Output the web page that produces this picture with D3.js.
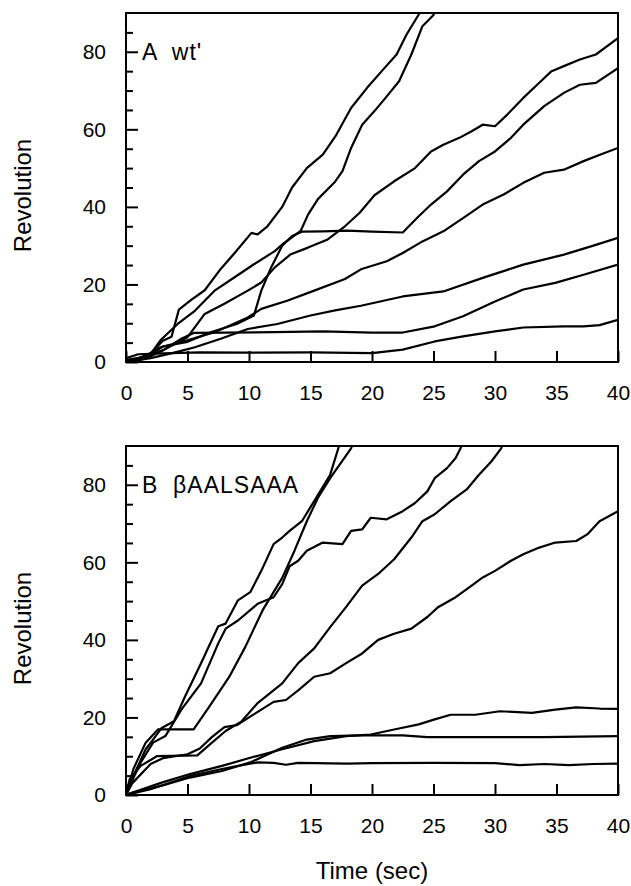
<!DOCTYPE html>
<html>
<head>
<meta charset="utf-8">
<script src="https://cdn.jsdelivr.net/npm/d3@7"></script>
<style>
  html, body { margin: 0; padding: 0; background: #fff; }
  svg text { font-family: "Liberation Sans", Arial, sans-serif; fill: #000; }
</style>
</head>
<body>
<div id="chart"></div>
<script>
// time axis and revolution axis
const timeTicks = [0, 5, 10, 15, 20, 25, 30, 35, 40]
const revTicks = [0, 20, 40, 60, 80]
const revMinor = [5, 10, 15, 25, 30, 35, 45, 50, 55, 65, 70, 75, 85]

// panel A, wt' : [time (sec), revolution]
const a1 = [[0,0.3],[1,0.8],[2,2.2],[3,5.5],[3.7,6.5],[4.3,13.5],[5.3,16],[6.4,18.5],[7.7,24],[8.8,28],[10.2,33.3],[10.7,32.9],[11.5,35],[12.7,40],[13.5,45],[14.7,50],[16,53.5],[17.1,58.6],[18.3,65.5],[19.6,70.7],[20.9,75.4],[22,79.3],[22.8,84.4],[23.8,89.6],[24,91]]
const a2 = [[0,0.2],[1,0.5],[2,2],[2.8,5.6],[4.2,9.8],[5.6,13.2],[7.2,18.4],[8.8,21.8],[10.4,25.2],[12.1,28.6],[12.7,30.3],[14.2,33.8],[14.8,38],[15.6,42],[17,46.5],[17.6,49.2],[18.3,55.2],[19.2,61.2],[20.2,64.7],[21.2,68.5],[22.2,72.4],[23.2,79.3],[24.1,86.6],[25,89.5],[25.2,91]]
const a3 = [[0,0],[1,0.3],[2,1.5],[3,3],[5,6.4],[6.4,12.4],[8,15],[9.9,18.4],[11,20.5],[12.1,24.4],[13.4,27.8],[14.8,29.5],[16.4,31.6],[17.8,35],[19,38.5],[20.2,43],[21.8,46.6],[23.5,50],[24.8,54.3],[25.8,56],[27.1,57.8],[28.1,59.5],[29,61.2],[30,60.8],[31,63.8],[32.3,68.1],[33.6,72],[34.6,75],[35.6,76.3],[36.9,78],[38.2,79.3],[40,83.5]]
const a4 = [[0,0.5],[1,1],[2,2],[3,4],[5,5.2],[7,7.8],[9,9.8],[10.4,12],[11,18.4],[11.8,24.4],[12.7,30],[13.5,32.5],[14.3,33.6],[16,33.7],[18,33.9],[20,33.6],[22.5,33.4],[23.8,37.6],[24.8,40.6],[26.1,44],[27.4,48.3],[28.7,51.8],[30,54.3],[31.3,57.8],[32.3,61.2],[34,66],[35.6,69.4],[36.9,71.5],[38.2,72],[40,75.8]]
const a5 = [[0,0],[1,0.5],[2.8,3.8],[5,5.6],[7.2,7.7],[8.5,9.5],[9.9,11.5],[11,13.7],[13.1,15.8],[15.3,18.4],[17.8,21.4],[19.1,23.9],[21.2,26],[22.5,28.1],[24.1,31.1],[25.8,33.7],[27.4,37.1],[29,40.6],[30.7,43.2],[32.3,46.2],[34,48.8],[35.6,49.6],[37.2,51.8],[38.9,53.9],[40,55.2]]
const a6 = [[0,0],[2,1],[4,2.5],[5.6,3.8],[7.7,6],[9.9,8.5],[12.3,9.8],[15,12],[17,13.3],[19.1,14.5],[22.5,16.9],[25.8,18.2],[29,21.7],[32.3,25.1],[35.6,27.7],[38,30],[40,32]]
const a7 = [[0,0.5],[1,1],[2,2],[3,3],[4.5,6],[5.5,7.5],[8,7.6],[12,7.7],[16,7.9],[20,7.6],[22.5,7.6],[25.1,9.2],[27.4,11.8],[30,15.6],[32.3,18.7],[34.9,20.4],[37.2,22.5],[40,25.1]]
const a8 = [[0,1],[1,2],[3,2.2],[6,2.5],[10,2.4],[15,2.5],[20,2.3],[22.5,3.2],[25.1,5.3],[27.4,6.6],[30,7.9],[32.3,8.9],[35.6,9.2],[37.2,9.2],[38.5,9.5],[40,10.9]]

// panel B, betaAALSAAA
const b1 = [[0,0],[0.6,4.9],[1.6,11.8],[2.2,14.3],[2.9,17.3],[3.9,19],[4.8,25.4],[6.1,34],[7.1,40.8],[7.5,43.5],[8.1,44.2],[9.1,50.2],[10.1,52.3],[11,57.8],[12,64.7],[12.7,66.4],[13.3,68.1],[14.3,70.6],[15.3,75.8],[16.6,82.6],[17.3,89.8],[17.5,91]]
const b2 = [[0,0],[0.3,2.4],[1.2,8.4],[2.2,13.5],[3.2,15.2],[4.5,22],[6.1,28.8],[7.5,39.1],[8.1,42.9],[9.1,45],[10.7,49.3],[12,51],[12.7,54.4],[13.3,59],[14,60.4],[14.7,63],[16,65.1],[17.6,64.7],[18.3,68.1],[19.2,68.5],[19.9,71.5],[21.2,71.1],[22.5,73.2],[23.5,75.3],[24.5,78.3],[25.1,81.7],[26.1,84.3],[26.8,86.9],[27.2,89.4],[27.4,91]]
const b3 = [[0,0],[0.6,6.7],[1.6,13.5],[2.6,16.9],[5.5,16.9],[6.8,22.9],[8.4,30.5],[9.7,38.2],[11.1,47.6],[12.7,56],[13.7,63],[14.7,70.6],[15.6,76.6],[16.6,81.7],[18.3,89.4],[18.5,91]]
const b4 = [[0,0],[0.3,4.1],[1.2,7.5],[2.5,10],[5.8,10.2],[6.8,13],[8.1,16.5],[9.4,19],[10.7,23.7],[12.7,28.8],[14,34],[15.3,37.8],[16.6,43.3],[17.9,48.5],[19.2,54],[20.5,57],[21.8,60.8],[23.2,66.4],[24.1,70.6],[25.1,72.4],[26.4,75.8],[27.7,78.8],[28.7,82.6],[29.7,86],[30.5,89.4],[30.7,91]]
const b5 = [[0,0],[0.5,3],[2,8],[3,9.5],[5,10.5],[6,12],[7,15],[8,17.5],[9,18],[10,20],[11,22],[12,24],[13,24.5],[14,27],[15.3,30.5],[16.6,31.4],[17.9,34],[19.2,36.5],[20.5,40],[21.8,41.6],[23.2,42.9],[24.5,45.9],[25.4,48.5],[26.8,51],[28.1,54],[29,56.1],[30,57.8],[31.3,60.4],[32.3,62.1],[33.6,63.8],[34.9,65.1],[36.6,65.5],[37.5,67.2],[38.5,70.6],[40,73.2]]
const b6 = [[0,0],[0.6,0.7],[2.9,3.2],[5.2,5.4],[7.8,7.5],[10.1,9.6],[12.7,11.8],[15.3,13.9],[17.9,15.2],[19.9,15.6],[21.8,16.9],[23.8,18.2],[25.1,19.5],[26.4,20.7],[28.4,20.7],[30.4,21.6],[33,21.2],[34.9,22],[36.6,22.6],[38.5,22.3],[40,22.2]]
const b7 = [[0,0],[0.6,0.7],[2.9,2.4],[5.2,4.5],[7.8,6.2],[10.1,8.4],[12.7,12.2],[14.7,14.3],[16.6,15.2],[19.2,15.4],[22.5,15.4],[24.5,14.9],[29,14.9],[34,14.9],[40,15.2]]
const b8 = [[0,0],[2,1.5],[5.2,4.9],[7.8,6.7],[9.4,7.7],[10.7,8.4],[12,8.3],[13,7.8],[14,8.3],[18,8.1],[20,8.2],[25,8.3],[30,8.2],[32,7.7],[34,8],[36,7.7],[38,8],[40,8.1]]

const panels = [
  {letter: "A", name: "wt'", top: 13, traces: [a1, a2, a3, a4, a5, a6, a7, a8]},
  {letter: "B", name: "\u03b2AALSAAA", top: 446, traces: [b1, b2, b3, b4, b5, b6, b7, b8]}
]

const width = 631, height = 886
const left = 126, right = 618, plotH = 349

const svg = d3.select("#chart").append("svg")
  .attr("width", width)
  .attr("height", height)

const x = d3.scaleLinear().domain([0, 40]).range([left, right])

panels.forEach((p, i) => {
  const y = d3.scaleLinear().domain([0, 90]).range([p.top + plotH, p.top])
  const g = svg.append("g")

  const clipId = "clip" + i
  g.append("clipPath").attr("id", clipId)
    .append("rect")
    .attr("x", left).attr("y", p.top)
    .attr("width", right - left).attr("height", plotH)

  const line = d3.line().x(d => x(d[0])).y(d => y(d[1]))

  g.append("g")
    .attr("clip-path", `url(#${clipId})`)
    .selectAll("path")
    .data(p.traces)
    .join("path")
    .attr("d", line)
    .attr("fill", "none")
    .attr("stroke", "#000")
    .attr("stroke-width", 2.2)
    .attr("stroke-linejoin", "round")

  // minor ticks on the revolution axis
  g.append("g")
    .attr("transform", `translate(${left},0)`)
    .call(d3.axisLeft(y).tickValues(revMinor).tickSize(-7).tickFormat(""))
    .call(a => a.select(".domain").remove())

  const yAxis = g.append("g")
    .attr("transform", `translate(${left},0)`)
    .call(d3.axisLeft(y).tickValues(revTicks).tickSize(-12).tickPadding(20))
  yAxis.select(".domain").remove()
  yAxis.selectAll("text").style("font-size", "21px")

  const xAxis = g.append("g")
    .attr("transform", `translate(0,${p.top + plotH})`)
    .call(d3.axisBottom(x).tickValues(timeTicks).tickSize(-11).tickPadding(23))
  xAxis.select(".domain").remove()
  xAxis.selectAll("text").style("font-size", "21px")

  svg.selectAll(".tick line").attr("stroke-width", 2)

  g.append("rect")
    .attr("x", left).attr("y", p.top)
    .attr("width", right - left).attr("height", plotH)
    .attr("fill", "none")
    .attr("stroke", "#000")
    .attr("stroke-width", 2)

  g.append("text")
    .attr("x", x(1.3))
    .attr("y", y(80) + 8)
    .style("font-size", "23px")
    .style("letter-spacing", "1px")
    .style("white-space", "pre")
    .text(p.letter + "  " + p.name)

  g.append("text")
    .attr("transform", `translate(31,${p.top + plotH / 2 + 8}) rotate(-90)`)
    .attr("text-anchor", "middle")
    .style("font-size", "24px")
    .text("Revolution")
})

svg.append("text")
  .attr("x", (left + right) / 2)
  .attr("y", 879)
  .attr("text-anchor", "middle")
  .style("font-size", "24px")
  .text("Time (sec)")
</script>
</body>
</html>
